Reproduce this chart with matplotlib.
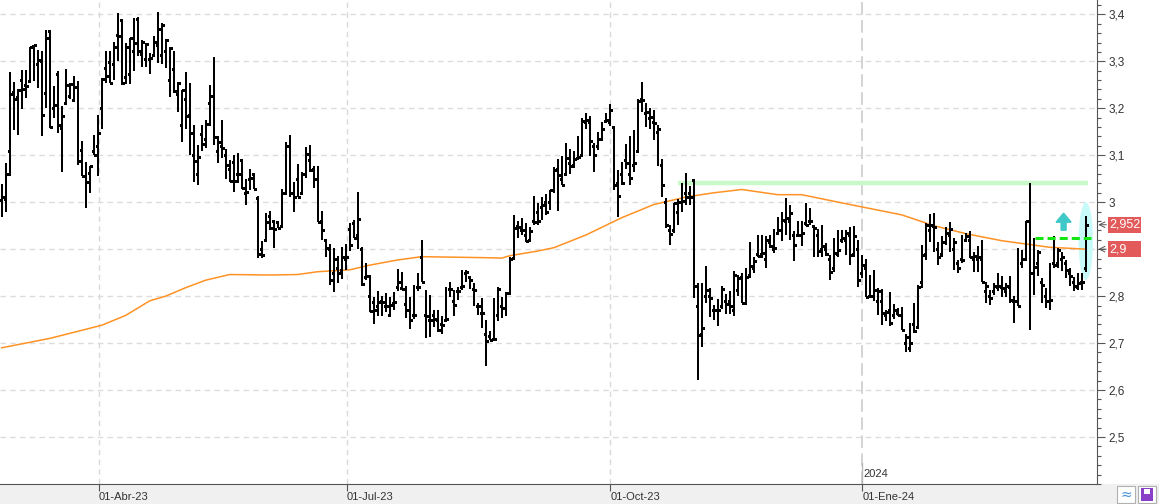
import matplotlib.pyplot as plt
import matplotlib.transforms as mtransforms
from matplotlib.patches import Rectangle, Ellipse, FancyArrow
from matplotlib.ticker import FixedLocator, MultipleLocator, FuncFormatter

plt.rcParams['font.family'] = ['Liberation Sans', 'DejaVu Sans']
plt.rcParams['lines.scale_dashes'] = False

# daily bars (one entry per session, Mar-2023 .. Mar-2024)
highs = [3.039, 3.083, 3.278, 3.255, 3.240, 3.282, 3.282, 3.330, 3.335, 3.324,
         3.322, 3.367, 3.365, 3.248, 3.280, 3.205, 3.284, 3.253, 3.269, 3.257,
         3.131, 3.085, 3.078, 3.143, 3.186, 3.264, 3.322, 3.322, 3.342, 3.402,
         3.388, 3.340, 3.349, 3.392, 3.394, 3.345, 3.338, 3.317, 3.354, 3.404,
         3.381, 3.347, 3.331, 3.322, 3.255, 3.239, 3.278, 3.253, 3.165, 3.121,
         3.165, 3.175, 3.250, 3.310, 3.140, 3.175, 3.113, 3.090, 3.101, 3.104,
         3.093, 3.049, 3.070, 3.062, 3.013, 2.918, 2.978, 2.982, 2.961, 2.959,
         3.028, 3.129, 3.143, 3.044, 3.081, 3.065, 3.118, 3.121, 3.078, 3.076,
         2.982, 2.921, 2.911, 2.902, 2.886, 2.904, 2.911, 2.955, 2.962, 3.021,
         2.904, 2.870, 2.845, 2.799, 2.811, 2.801, 2.806, 2.799, 2.808, 2.858,
         2.852, 2.822, 2.799, 2.823, 2.849, 2.920, 2.813, 2.803, 2.771, 2.771,
         2.757, 2.819, 2.831, 2.813, 2.820, 2.856, 2.856, 2.842, 2.828, 2.785,
         2.796, 2.750, 2.725, 2.796, 2.820, 2.798, 2.808, 2.884, 2.973, 2.959,
         2.966, 2.955, 2.948, 3.013, 2.998, 3.012, 3.018, 3.026, 3.075, 3.091,
         3.098, 3.125, 3.113, 3.108, 3.142, 3.179, 3.190, 3.183, 3.126, 3.149,
         3.170, 3.190, 3.209, 3.163, 3.069, 3.085, 3.123, 3.142, 3.153, 3.220,
         3.255, 3.211, 3.201, 3.196, 3.165, 3.091, 3.009, 2.952, 2.999, 3.007,
         3.041, 3.062, 3.034, 3.050, 2.827, 2.828, 2.864, 2.818, 2.782, 2.793,
         2.821, 2.804, 2.811, 2.853, 2.844, 2.849, 2.859, 2.916, 2.884, 2.930,
         2.930, 2.927, 2.930, 2.943, 2.968, 2.979, 3.008, 2.994, 2.938, 2.959,
         2.959, 2.999, 2.987, 2.952, 2.943, 2.952, 2.913, 2.888, 2.923, 2.941,
         2.941, 2.941, 2.948, 2.950, 2.920, 2.888, 2.879, 2.845, 2.855, 2.817,
         2.815, 2.771, 2.808, 2.784, 2.775, 2.777, 2.719, 2.742, 2.785, 2.824,
         2.909, 2.955, 2.974, 2.977, 2.916, 2.927, 2.948, 2.957, 2.923, 2.877,
         2.930, 2.934, 2.938, 2.895, 2.907, 2.920, 2.831, 2.813, 2.828, 2.849,
         2.842, 2.828, 2.843, 2.801, 2.902, 2.899, 2.959, 3.040, 2.923, 2.899,
         2.838, 2.817, 2.870, 2.927, 2.902, 2.895, 2.877, 2.860, 2.840, 2.849,
         2.849, 2.971]
lows = [2.968, 2.980, 3.056, 3.154, 3.144, 3.199, 3.221, 3.253, 3.259, 3.244,
        3.142, 3.201, 3.157, 3.179, 3.147, 3.064, 3.211, 3.220, 3.217, 3.080,
        3.056, 2.987, 3.019, 3.101, 3.055, 3.155, 3.253, 3.253, 3.260, 3.301,
        3.249, 3.251, 3.252, 3.280, 3.312, 3.287, 3.287, 3.272, 3.312, 3.296,
        3.294, 3.285, 3.223, 3.232, 3.193, 3.129, 3.155, 3.101, 3.042, 3.036,
        3.110, 3.115, 3.163, 3.121, 3.084, 3.094, 3.050, 3.044, 3.021, 3.040,
        3.029, 2.994, 3.026, 3.028, 2.881, 2.881, 2.918, 2.940, 2.902, 2.945,
        2.946, 3.019, 3.012, 2.979, 3.011, 3.016, 3.051, 3.064, 3.030, 2.957,
        2.920, 2.884, 2.823, 2.809, 2.829, 2.836, 2.855, 2.897, 2.924, 2.900,
        2.822, 2.835, 2.767, 2.741, 2.757, 2.757, 2.767, 2.757, 2.771, 2.810,
        2.813, 2.753, 2.730, 2.751, 2.810, 2.831, 2.711, 2.714, 2.735, 2.723,
        2.720, 2.750, 2.799, 2.757, 2.792, 2.813, 2.831, 2.815, 2.778, 2.760,
        2.732, 2.652, 2.707, 2.707, 2.747, 2.753, 2.757, 2.806, 2.881, 2.923,
        2.930, 2.916, 2.918, 2.952, 2.952, 2.962, 2.973, 2.984, 3.020, 2.981,
        3.036, 3.055, 3.061, 3.072, 3.092, 3.099, 3.156, 3.098, 3.064, 3.112,
        3.130, 3.170, 3.162, 3.027, 2.968, 3.037, 3.071, 3.036, 3.064, 3.106,
        3.191, 3.160, 3.156, 3.133, 3.077, 3.011, 2.945, 2.908, 2.935, 2.951,
        2.979, 2.995, 2.993, 2.796, 2.621, 2.692, 2.786, 2.756, 2.750, 2.736,
        2.773, 2.763, 2.761, 2.757, 2.801, 2.786, 2.786, 2.838, 2.850, 2.883,
        2.882, 2.860, 2.902, 2.891, 2.930, 2.918, 2.930, 2.920, 2.874, 2.927,
        2.907, 2.950, 2.952, 2.884, 2.883, 2.884, 2.886, 2.835, 2.852, 2.884,
        2.913, 2.888, 2.867, 2.883, 2.819, 2.838, 2.798, 2.799, 2.789, 2.760,
        2.739, 2.746, 2.737, 2.751, 2.757, 2.728, 2.682, 2.682, 2.721, 2.732,
        2.817, 2.877, 2.916, 2.893, 2.867, 2.884, 2.909, 2.895, 2.856, 2.849,
        2.870, 2.916, 2.881, 2.852, 2.852, 2.831, 2.785, 2.781, 2.803, 2.810,
        2.799, 2.799, 2.785, 2.743, 2.778, 2.860, 2.879, 2.728, 2.803, 2.842,
        2.785, 2.775, 2.771, 2.860, 2.860, 2.853, 2.838, 2.821, 2.810, 2.814,
        2.812, 2.852]
opens = [3.005, 3.006, 3.109, 3.234, 3.225, 3.260, 3.250, 3.257, 3.333, 3.294,
         3.300, 3.232, 3.365, 3.200, 3.273, 3.158, 3.211, 3.226, 3.218, 3.245,
         3.111, 3.056, 3.062, 3.109, 3.120, 3.200, 3.285, 3.298, 3.294, 3.357,
         3.388, 3.266, 3.272, 3.321, 3.390, 3.316, 3.305, 3.304, 3.313, 3.335,
         3.314, 3.321, 3.260, 3.283, 3.230, 3.165, 3.220, 3.185, 3.100, 3.060,
         3.145, 3.135, 3.211, 3.226, 3.110, 3.120, 3.100, 3.071, 3.085, 3.060,
         3.090, 3.020, 3.050, 3.060, 3.009, 2.900, 2.920, 2.970, 2.960, 2.957,
         2.950, 3.020, 3.120, 3.020, 3.050, 3.020, 3.060, 3.090, 3.070, 3.050,
         2.960, 2.920, 2.900, 2.850, 2.860, 2.855, 2.880, 2.942, 2.955, 2.930,
         2.900, 2.840, 2.800, 2.788, 2.780, 2.790, 2.780, 2.760, 2.785, 2.820,
         2.817, 2.784, 2.770, 2.760, 2.820, 2.884, 2.760, 2.750, 2.760, 2.750,
         2.740, 2.750, 2.815, 2.790, 2.810, 2.820, 2.850, 2.840, 2.815, 2.780,
         2.765, 2.720, 2.715, 2.708, 2.760, 2.780, 2.774, 2.806, 2.881, 2.950,
         2.940, 2.930, 2.920, 2.960, 2.980, 2.990, 3.000, 3.000, 3.025, 3.070,
         3.050, 3.060, 3.083, 3.080, 3.095, 3.100, 3.170, 3.170, 3.120, 3.120,
         3.135, 3.172, 3.170, 3.160, 3.040, 3.060, 3.090, 3.060, 3.080, 3.110,
         3.220, 3.190, 3.180, 3.170, 3.150, 3.080, 3.000, 2.940, 2.940, 2.980,
         3.000, 3.020, 3.020, 3.048, 2.780, 2.720, 2.800, 2.800, 2.770, 2.770,
         2.780, 2.790, 2.790, 2.770, 2.813, 2.840, 2.786, 2.845, 2.860, 2.890,
         2.890, 2.880, 2.915, 2.900, 2.935, 2.940, 2.960, 2.960, 2.930, 2.930,
         2.930, 2.955, 2.960, 2.950, 2.930, 2.900, 2.900, 2.880, 2.860, 2.890,
         2.920, 2.920, 2.930, 2.890, 2.900, 2.850, 2.860, 2.800, 2.800, 2.790,
         2.790, 2.760, 2.770, 2.760, 2.765, 2.760, 2.700, 2.690, 2.740, 2.735,
         2.830, 2.890, 2.940, 2.950, 2.900, 2.890, 2.915, 2.930, 2.900, 2.870,
         2.880, 2.920, 2.920, 2.880, 2.880, 2.880, 2.810, 2.800, 2.810, 2.820,
         2.820, 2.810, 2.820, 2.790, 2.790, 2.870, 2.880, 2.960, 2.850, 2.870,
         2.830, 2.800, 2.790, 2.870, 2.870, 2.880, 2.870, 2.850, 2.830, 2.820,
         2.830, 2.860]
closes = [3.012, 3.060, 3.230, 3.219, 3.239, 3.240, 3.248, 3.330, 3.335, 3.303,
          3.185, 3.349, 3.161, 3.208, 3.164, 3.184, 3.249, 3.252, 3.245, 3.087,
          3.056, 3.043, 3.078, 3.101, 3.147, 3.262, 3.269, 3.253, 3.331, 3.354,
          3.253, 3.331, 3.349, 3.338, 3.321, 3.342, 3.337, 3.306, 3.341, 3.369,
          3.377, 3.345, 3.329, 3.237, 3.253, 3.239, 3.184, 3.148, 3.087, 3.097,
          3.124, 3.166, 3.226, 3.139, 3.129, 3.116, 3.079, 3.045, 3.045, 3.060,
          3.030, 3.022, 3.051, 3.028, 2.890, 2.887, 2.957, 2.944, 2.942, 2.946,
          3.019, 3.120, 3.020, 3.012, 3.011, 3.061, 3.103, 3.069, 3.050, 2.958,
          2.940, 2.902, 2.835, 2.880, 2.850, 2.884, 2.884, 2.909, 2.924, 2.964,
          2.825, 2.842, 2.769, 2.770, 2.788, 2.788, 2.778, 2.782, 2.787, 2.831,
          2.815, 2.770, 2.750, 2.760, 2.820, 2.831, 2.758, 2.750, 2.751, 2.728,
          2.738, 2.751, 2.815, 2.781, 2.810, 2.822, 2.852, 2.835, 2.813, 2.778,
          2.764, 2.704, 2.707, 2.709, 2.816, 2.774, 2.806, 2.880, 2.946, 2.948,
          2.940, 2.918, 2.939, 2.957, 2.959, 2.994, 2.980, 3.026, 3.068, 3.057,
          3.036, 3.094, 3.078, 3.091, 3.096, 3.172, 3.174, 3.130, 3.101, 3.135,
          3.155, 3.174, 3.197, 3.037, 3.013, 3.041, 3.084, 3.052, 3.084, 3.215,
          3.218, 3.193, 3.181, 3.169, 3.155, 3.037, 2.952, 2.933, 2.999, 3.001,
          3.002, 3.011, 3.010, 2.821, 2.718, 2.733, 2.813, 2.796, 2.771, 2.771,
          2.815, 2.784, 2.780, 2.846, 2.839, 2.786, 2.840, 2.865, 2.875, 2.886,
          2.891, 2.920, 2.907, 2.902, 2.941, 2.962, 2.966, 2.977, 2.909, 2.930,
          2.935, 2.952, 2.959, 2.946, 2.897, 2.906, 2.890, 2.852, 2.891, 2.899,
          2.923, 2.934, 2.888, 2.927, 2.835, 2.867, 2.798, 2.801, 2.813, 2.810,
          2.764, 2.767, 2.743, 2.771, 2.760, 2.728, 2.714, 2.700, 2.725, 2.820,
          2.888, 2.952, 2.952, 2.948, 2.883, 2.916, 2.934, 2.943, 2.916, 2.860,
          2.877, 2.927, 2.884, 2.886, 2.884, 2.831, 2.822, 2.796, 2.821, 2.821,
          2.817, 2.821, 2.792, 2.789, 2.779, 2.879, 2.959, 2.850, 2.863, 2.893,
          2.824, 2.789, 2.791, 2.867, 2.899, 2.884, 2.856, 2.843, 2.821, 2.828,
          2.831, 2.952]

# moving average, sampled at some sessions
ma_sessions = [1, 13, 20, 26, 32, 38, 42, 47, 52, 58, 68, 75, 80, 88, 93, 100,
               106, 121, 126, 128, 135, 139, 147, 156, 164, 172, 179, 186, 195,
               201, 209, 216, 226, 234, 242, 251, 257, 263, 272]
ma_values = [2.690, 2.710, 2.725, 2.738, 2.759, 2.790, 2.800, 2.818, 2.834,
             2.846, 2.845, 2.846, 2.852, 2.856, 2.866, 2.877, 2.884, 2.882,
             2.881, 2.886, 2.896, 2.903, 2.930, 2.967, 2.995, 3.011, 3.020,
             3.027, 3.016, 3.016, 3.002, 2.990, 2.973, 2.950, 2.933, 2.918,
             2.911, 2.904, 2.900]

# month markers (session position) and labels
month_pos = [25.3, 87.3, 153.1, 216.1]
month_labels = ['01-Abr-23', '01-Jul-23', '01-Oct-23', '01-Ene-24']

resistance = 3.041      # light green level
resistance_from = 170
breakout = 2.923        # dashed green level
breakout_from = 259.3
last_price = 2.952
last_ma = 2.9

n = len(highs)
x = list(range(1, n + 1))

fig = plt.figure(figsize=(11.59, 5.04), dpi=100)
ax = fig.add_axes([0, 20 / 504, 1097 / 1159, 484 / 504])
ax.set_xlim(0.575, 274.8)
ax.set_ylim(2.4, 3.4305)

# grey strip under the chart
fig.patches.append(Rectangle((0, 0), 1, 20 / 504, transform=fig.transFigure,
                             facecolor='#f0f0f0', edgecolor='none', zorder=-5))

# grid
for v in [2.5, 2.6, 2.7, 2.8, 2.9, 3.0, 3.1, 3.2, 3.3, 3.4]:
    ax.axhline(v, color='#dcdcdc', lw=1, dashes=(4, 3), zorder=0)
for p in month_pos[:3]:
    ax.axvline(p, color='#dadada', lw=1, dashes=(4, 3), zorder=0)
ax.axvline(month_pos[3], color='#d0d0d0', lw=1.3, dashes=(9, 4), zorder=0)
ax.plot([month_pos[3], month_pos[3]], [2.4, 2.445], color='#b8b8b8', lw=1, zorder=1)
ax.text(month_pos[3] + 0.4, 2.421, '2024', fontsize=8, color='#333333',
        ha='left', va='center')

# resistance and breakout levels
ax.hlines(resistance, resistance_from, n + 0.5, colors='#c9f8c9', lw=3.2, zorder=1)
ax.add_patch(Ellipse((n, 2.917), 3.6, 0.166, facecolor='#c9fafa',
                     edgecolor='none', zorder=1))
ax.hlines(breakout, breakout_from, n + 1.3, colors='#14e614', lw=2.2,
          linestyles=[(0, (5.8, 2.9))], zorder=4)
ax.add_patch(FancyArrow(266.45, 2.9404, 0, 0.0362, width=1.25, head_width=3.75,
                        head_length=0.0192, length_includes_head=True,
                        color='#3ec8c8', zorder=4))

# moving average
ax.plot(ma_sessions, ma_values, color='#ff9224', lw=1.1, zorder=2)

# OHLC bars
ax.vlines(x, lows, highs, colors='black', lw=1.3, antialiased=False, zorder=3)
ax.hlines(opens, [i - 0.5 for i in x], x, colors='black', lw=0.8,
          antialiased=False, zorder=3)
ax.hlines(closes, x, [i + 0.5 for i in x], colors='black', lw=0.8,
          antialiased=False, zorder=3)

# axes styling
for s in ['left', 'top']:
    ax.spines[s].set_visible(False)
ax.spines['right'].set_color('#555555')
ax.spines['bottom'].set_color('#555555')
ax.yaxis.tick_right()
ax.yaxis.set_major_locator(FixedLocator([2.5, 2.6, 2.7, 2.8, 2.9, 3.0, 3.1, 3.2, 3.3, 3.4]))
ax.yaxis.set_minor_locator(MultipleLocator(0.02))
ax.yaxis.set_major_formatter(FuncFormatter(lambda v, p: ('%g' % round(v, 2)).replace('.', ',')))
ax.tick_params(axis='y', which='major', length=6, width=0.8, color='#555555',
               labelsize=8.5, labelcolor='#333333', pad=2)
ax.tick_params(axis='y', which='minor', length=3, width=0.8, color='#555555')
ax.set_xticks(month_pos)
ax.set_xticklabels(month_labels)
for lbl in ax.get_xticklabels():
    lbl.set_ha('left')
ax.tick_params(axis='x', length=5, width=0.8, color='#555555', labelsize=8,
               labelcolor='#333333', pad=1)

# price flags on the right
trans = mtransforms.blended_transform_factory(ax.transAxes, ax.transData)
for v, txt in [(last_price, '2,952'), (last_ma, '2,9')]:
    ax.add_patch(Rectangle((1.0097, v - 0.0175), 0.0301, 0.035, transform=trans,
                           facecolor='#e35a5a', edgecolor='none', clip_on=False, zorder=5))
    ax.text(1.0112, v, txt, transform=trans, color='white', fontsize=9,
            ha='left', va='center', clip_on=False, zorder=6)
    ax.annotate('', xy=(1.0012, v), xytext=(1.0085, v), xycoords=trans,
                textcoords=trans, annotation_clip=False,
                arrowprops=dict(arrowstyle='->', color='#555555', lw=0.7,
                                shrinkA=0, shrinkB=0))

# small toolbar icons bottom right
fig.patches.append(Rectangle((1117 / 1159, 1 / 504), 18 / 1159, 17 / 504,
                             transform=fig.transFigure, facecolor='white',
                             edgecolor='#b0b0b0', lw=0.8, zorder=5))
fig.text(1126 / 1159, 9.5 / 504, '≈', color='#4a90d9', fontsize=10,
         ha='center', va='center', family='DejaVu Sans', zorder=6)
fig.patches.append(Rectangle((1138 / 1159, 1 / 504), 18 / 1159, 17 / 504,
                             transform=fig.transFigure, facecolor='white',
                             edgecolor='#b0b0b0', lw=0.8, zorder=5))
fig.patches.append(Rectangle((1141 / 1159, 3 / 504), 12 / 1159, 13 / 504,
                             transform=fig.transFigure, facecolor='#8a3fc8',
                             edgecolor='none', zorder=6))
fig.patches.append(Rectangle((1144 / 1159, 10 / 504), 6 / 1159, 5 / 504,
                             transform=fig.transFigure, facecolor='white',
                             edgecolor='none', zorder=7))

fig.savefig('out.png', dpi=100)
